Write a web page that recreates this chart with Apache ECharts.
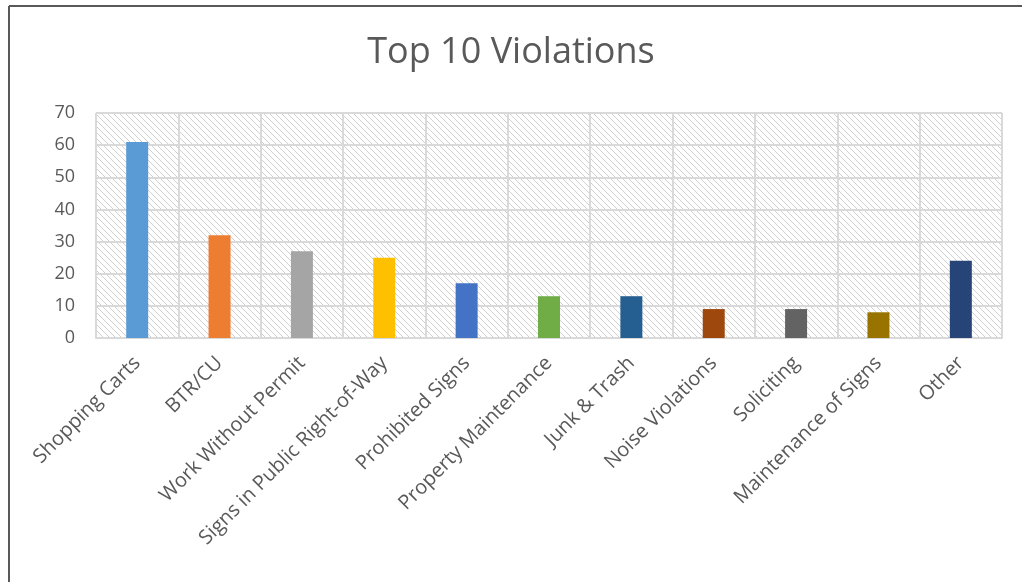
<!DOCTYPE html>
<html>
<head>
<meta charset="utf-8">
<script src="https://cdn.jsdelivr.net/npm/echarts@6/dist/echarts.min.js"></script>
<style>html,body{margin:0;padding:0;background:#fff;}#chart{width:1022px;height:582px;}</style>
</head>
<body>
<div id="chart"></div>
<script>
const categories = ["Shopping Carts","BTR/CU","Work Without Permit","Signs in Public Right-of-Way","Prohibited Signs","Property Maintenance","Junk & Trash","Noise Violations","Soliciting","Maintenance of Signs","Other"];
const values = [61, 32, 27, 25, 17, 13, 13, 9, 9, 8, 24];
const barColors = ["#5B9BD5","#ED7D31","#A5A5A5","#FFC000","#4472C4","#70AD47","#255E91","#9E480E","#636363","#997300","#264478"];
const titleText = "Top 10 Violations";

// hatch pattern
const pc = document.createElement('canvas');
pc.width = 6; pc.height = 6;
const ctx = pc.getContext('2d');
ctx.fillStyle = '#ffffff'; ctx.fillRect(0,0,6,6);
ctx.strokeStyle = '#d0d0d0'; ctx.lineWidth = 1;
ctx.beginPath();
ctx.moveTo(0,0); ctx.lineTo(6,6);
ctx.moveTo(-3,3); ctx.lineTo(3,9);
ctx.moveTo(3,-3); ctx.lineTo(9,3);
ctx.stroke();

const chart = echarts.init(document.getElementById('chart'));
const fontFam = '"Open Sans", sans-serif';
chart.setOption({
  animation: false,
  backgroundColor: '#fff',
  title: {text: titleText, left: 'center', top: 30, textStyle: {fontFamily: fontFam, fontWeight: 'normal', fontSize: 36, color: '#595959'}},
  grid: {left: 96, right: 20, top: 113, bottom: 244, show: true, backgroundColor: {image: pc, repeat: 'repeat'}, borderWidth: 0},
  xAxis: {
    type: 'category', data: categories,
    axisLine: {show: true, lineStyle: {color: '#d9d9d9', width: 2}},
    axisTick: {show: false},
    splitLine: {show: true, lineStyle: {color: '#d9d9d9', width: 2}},
    axisLabel: {rotate: 45, interval: 0, fontFamily: fontFam, fontSize: 20, color: '#595959', margin: 22}
  },
  yAxis: {
    type: 'value', min: 0, max: 70, interval: 10,
    axisLine: {show: false}, axisTick: {show: false},
    splitLine: {lineStyle: {color: '#d9d9d9', width: 2}},
    axisLabel: {fontFamily: fontFam, fontSize: 18, color: '#595959', margin: 21}
  },
  series: [{
    type: 'bar', barWidth: 22,
    data: values.map((v, i) => ({value: v, itemStyle: {color: barColors[i]}}))
  }],
  graphic: [
    {type: 'line', shape: {x1: 9, y1: 6, x2: 1022, y2: 6}, style: {stroke: '#595959', lineWidth: 2}},
    {type: 'line', shape: {x1: 9, y1: 6, x2: 9, y2: 582}, style: {stroke: '#595959', lineWidth: 2}}
  ]
});
</script>
</body>
</html>
